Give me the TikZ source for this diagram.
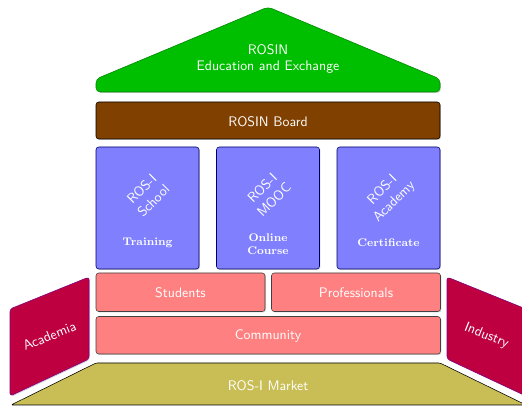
\documentclass[tikz,border=0pt]{standalone}
\usepackage{tikz}
\usetikzlibrary{shadows}
\definecolor{roofgreen}{RGB}{0,190,0}
\definecolor{boardbrown}{RGB}{128,64,0}
\definecolor{pillarblue}{RGB}{128,128,255}
\definecolor{peoplered}{RGB}{255,128,128}
\definecolor{sidepurple}{RGB}{190,0,65}
\definecolor{marketolive}{RGB}{200,190,85}
\tikzset{
	shade/.style={drop shadow={opacity=0.35, shadow xshift=0.7pt, shadow yshift=-0.7pt}},
	roof/.style={fill=roofgreen, draw=roofgreen!70!black, rounded corners=3pt, shade},
	board/.style={fill=boardbrown, draw=black, rounded corners=2pt, shade},
	pillar/.style={fill=pillarblue, draw=blue!40!black, rounded corners=2pt, shade},
	people/.style={fill=peoplered, draw=black!75, rounded corners=2pt, shade},
	side/.style={fill=sidepurple, draw=violet, rounded corners=2pt, shade},
	market/.style={fill=marketolive, draw=black, rounded corners=1pt},
	label/.style={text=white, font=\sffamily, align=center},
	sublabel/.style={text=white, font=\footnotesize\bfseries\rmfamily, align=center}
}
\begin{document}
\begin{tikzpicture}[x=0.254mm, y=0.254mm]
			%%%%% START %%%%%
			\useasboundingbox (0, 0) rectangle (522, 407);
			
			% roof
			\draw[roof] (96, 315) -- (96, 328) -- (268, 400) -- (440, 328) -- (440, 315) -- cycle;
			\node[label] (rosin) at (268, 348) {ROSIN\\Education and Exchange};
			
			\draw[board] (96, 268) rectangle (440, 305);
			\node[label] (board) at (268, 285) {ROSIN Board};
			
			% pillars
			\draw[pillar] (96, 138) rectangle (199, 260);
			\draw[pillar] (216.5, 138) rectangle (319.5, 260);
			\draw[pillar] (337, 138) rectangle (440, 260);
			\node[label, rotate=45] (school) at (147.5, 212) {ROS-I\\School};
			\node[label, rotate=45] (mooc) at (268, 213) {ROS-I\\MOOC};
			\node[label, rotate=45] (academy) at (388.5, 211) {ROS-I\\Academy};
			\node[sublabel] (training) at (147.5, 164) {Training};
			\node[sublabel] (online) at (268, 163) {Online\\Course};
			\node[sublabel] (certificate) at (388.5, 164) {Certificate};
			
			% people
			\draw[people] (96, 95.5) rectangle (265, 134);
			\draw[people] (271.5, 95.5) rectangle (440.5, 134);
			\draw[people] (96, 53) rectangle (440.5, 90.5);
			\node[label] (students) at (180.5, 114) {Students};
			\node[label] (professionals) at (356, 114) {Professionals};
			\node[label] (community) at (268, 70.5) {Community};
			
			% sides
			\draw[side] (10, 11) -- (10, 98) -- (89, 130) -- (89, 48) -- cycle;
			\node[label, rotate=22] (academia) at (49.5, 71) {Academia};
			\draw[side] (526, 11) -- (526, 98) -- (447, 130) -- (447, 48) -- cycle;
			\node[label, rotate=-22] (industry) at (486.5, 71) {Industry};
			
			% base
			\draw[market] (11, 2) -- (96, 44) -- (440, 44) -- (526, 2) -- cycle;
			\node[label] (market) at (268, 21.5) {ROS-I Market};
			
			%%%%% END %%%%%
\end{tikzpicture}
\end{document}
